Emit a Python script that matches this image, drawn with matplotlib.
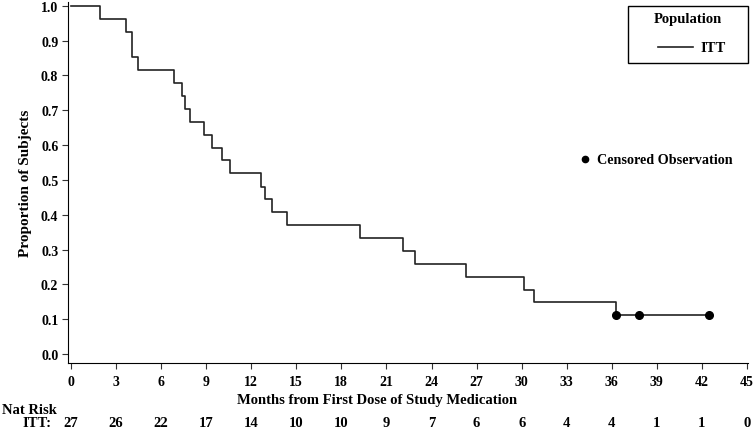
import matplotlib
matplotlib.use("Agg")
import matplotlib.pyplot as plt
import matplotlib.transforms as mtransforms
from matplotlib.patches import Rectangle

# Kaplan-Meier steps (months, proportion)
event_times = [0, 1.9, 3.64, 4.04, 4.46, 6.84, 7.37, 7.57, 7.92, 8.84, 9.37, 10.05,
               10.59, 12.65, 12.94, 13.36, 14.36, 19.26, 22.07, 22.87, 26.3, 30.14,
               30.8, 36.3]
survival = [1.0, 0.963, 0.926, 0.852, 0.815, 0.778, 0.741, 0.704, 0.667, 0.630,
            0.593, 0.556, 0.519, 0.481, 0.444, 0.407, 0.370, 0.333, 0.296, 0.259,
            0.222, 0.185, 0.148, 0.111]
last_time = 42.5
censor_times = [36.3, 37.8, 42.5]
censor_surv = [0.111, 0.111, 0.111]

risk_times = [0, 3, 6, 9, 12, 15, 18, 21, 24, 27, 30, 33, 36, 39, 42, 45]
risk_itt = [27, 26, 22, 17, 14, 10, 10, 9, 7, 6, 6, 4, 4, 1, 1, 0]

x_ticks = list(range(0, 46, 3))
y_ticks = [0.0, 0.1, 0.2, 0.3, 0.4, 0.5, 0.6, 0.7, 0.8, 0.9, 1.0]

W, H = 755, 431
fs = 10
plt.rcParams["font.family"] = "Liberation Serif"
plt.rcParams["font.weight"] = "bold"

fig = plt.figure(figsize=(W / 100, H / 100), dpi=100)
ax = fig.add_axes([68 / W, 1 - 364 / H, (748 - 68) / W, (364 - 3) / H])

ax.step(event_times + [last_time], survival + [survival[-1]], where="post",
        color="#222222", lw=1.2)
ax.plot(censor_times, censor_surv, "o", color="black", ms=5.5)

ax.set_xlim(-0.2, 45.07)
ax.set_ylim(-0.026, 1.011)
ax.set_xticks(x_ticks)
ax.set_yticks(y_ticks)
ax.set_yticklabels(["%.1f" % v for v in y_ticks])
ax.spines["top"].set_visible(False)
ax.spines["right"].set_visible(False)
ax.tick_params(labelsize=fs, direction="out", length=4, color="#333333")
ax.tick_params(axis="x", pad=5)
ax.tick_params(axis="y", pad=3)
for lab in ax.get_xticklabels() + ax.get_yticklabels():
    lab.set_fontweight("bold")

# pixel helper: figure coords from reference pixel positions
def px(x, y):
    return x / W, 1 - y / H

fig.text(*px(377, 401), "Months from First Dose of Study Medication", fontsize=10.5,
         fontweight="bold", ha="center", va="center")
fig.text(*px(25, 183), "Proportion of Subjects", fontsize=11, fontweight="bold",
         ha="center", va="center", rotation=90)

# legend box drawn by hand
x0, y0 = px(628, 64)
x1, y1 = px(748, 7)
fig.patches.append(Rectangle((x0, y0), x1 - x0, y1 - y0, transform=fig.transFigure,
                             fill=False, edgecolor="black", lw=1.0))
fig.text(*px(688, 20), "Population", fontsize=10.5, fontweight="bold",
         ha="center", va="center")
lx0, ly = px(658, 48)
lx1, _ = px(693, 48)
fig.add_artist(plt.Line2D([lx0, lx1], [ly, ly], transform=fig.transFigure,
                          color="#222222", lw=1.2))
fig.text(*px(700, 48), "ITT", fontsize=10.5, fontweight="bold", ha="left", va="center")

# censored note
fig.add_artist(plt.Line2D([585 / W], [1 - 160 / H], transform=fig.transFigure,
                          marker="o", color="black", ms=4.5, lw=0))
fig.text(*px(597, 160), "Censored Observation", fontsize=10.2, fontweight="bold",
         va="center", ha="left")

# number at risk table
trans = mtransforms.blended_transform_factory(ax.transData, fig.transFigure)
fig.text(*px(2, 411), "Nat Risk", fontsize=10.5, fontweight="bold",
         va="center", ha="left")
fig.text(*px(51, 424), "ITT:", fontsize=10.5, fontweight="bold",
         va="center", ha="right")
for t, n in zip(risk_times, risk_itt):
    ax.text(t, 1 - 424 / H, str(n), transform=trans, fontsize=10.5,
            fontweight="bold", va="center", ha="center")

fig.savefig("out.png", dpi=100)
